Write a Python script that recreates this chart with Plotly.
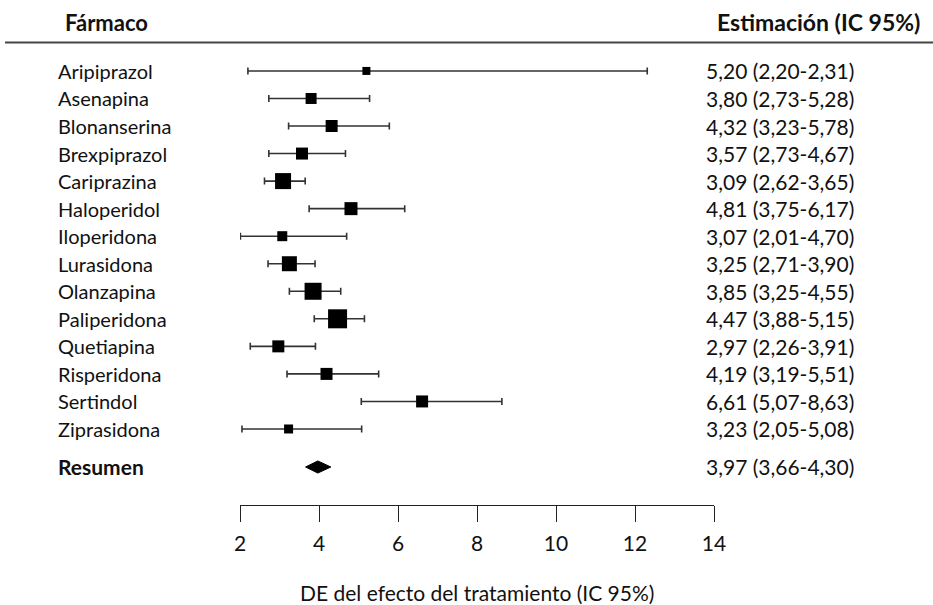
import plotly.graph_objects as go

drugs = ["Aripiprazol", "Asenapina", "Blonanserina", "Brexpiprazol", "Cariprazina",
         "Haloperidol", "Iloperidona", "Lurasidona", "Olanzapina", "Paliperidona",
         "Quetiapina", "Risperidona", "Sertindol", "Ziprasidona"]
estimate = [5.20, 3.80, 4.32, 3.57, 3.09, 4.81, 3.07, 3.25, 3.85, 4.47, 2.97, 4.19, 6.61, 3.23]
ci_low = [2.20, 2.73, 3.23, 2.73, 2.62, 3.75, 2.01, 2.71, 3.25, 3.88, 2.26, 3.19, 5.07, 2.05]
ci_high = [12.31, 5.28, 5.78, 4.67, 3.65, 6.17, 4.70, 3.90, 4.55, 5.15, 3.91, 5.51, 8.63, 5.08]
weights = [8, 11, 12, 12, 16, 13, 10, 15, 17, 19, 12, 12, 12, 9]
estimate_labels = ["5,20 (2,20-2,31)", "3,80 (2,73-5,28)", "4,32 (3,23-5,78)", "3,57 (2,73-4,67)",
                   "3,09 (2,62-3,65)", "4,81 (3,75-6,17)", "3,07 (2,01-4,70)", "3,25 (2,71-3,90)",
                   "3,85 (3,25-4,55)", "4,47 (3,88-5,15)", "2,97 (2,26-3,91)", "4,19 (3,19-5,51)",
                   "6,61 (5,07-8,63)", "3,23 (2,05-5,08)"]
summary_name = "Resumen"
summary_est = 3.97
summary_low = 3.66
summary_high = 4.30
summary_label = "3,97 (3,66-4,30)"
x_ticks = [2, 4, 6, 8, 10, 12, 14]

FONT = "Lato"
TXT = "#111111"
n = len(drugs)
ypos = [n - i for i in range(n)]
y_sum = -0.38

fig = go.Figure()
fig.add_trace(go.Scatter(
    x=estimate, y=ypos, mode="markers", opacity=1,
    marker=dict(symbol="square", size=weights, color="#000000", opacity=1,
                line=dict(width=0, color="#000000")),
    error_x=dict(type="data", symmetric=False,
                 array=[h - e for h, e in zip(ci_high, estimate)],
                 arrayminus=[e - l for e, l in zip(estimate, ci_low)],
                 color="#333333", thickness=1.6, width=3.5),
    showlegend=False, hoverinfo="skip"))

dh = 0.22
fig.add_trace(go.Scatter(
    x=[summary_low, summary_est, summary_high, summary_est, summary_low],
    y=[y_sum, y_sum + dh, y_sum, y_sum - dh, y_sum],
    mode="lines", fill="toself", fillcolor="#000000", line=dict(color="#000000", width=1),
    showlegend=False, hoverinfo="skip"))

ann = []
for name, lab, y in zip(drugs, estimate_labels, ypos):
    ann.append(dict(x=56 / 933, y=y, xref="paper", yref="y", text=name, showarrow=False,
                    xanchor="left", yanchor="middle", font=dict(family=FONT, size=20, color=TXT)))
    ann.append(dict(x=704 / 933, y=y, xref="paper", yref="y", text=lab, showarrow=False,
                    xanchor="left", yanchor="middle", font=dict(family=FONT, size=21, color=TXT)))
ann.append(dict(x=56 / 933, y=y_sum, xref="paper", yref="y", text="<b>" + summary_name + "</b>",
                showarrow=False, xanchor="left", yanchor="middle",
                font=dict(family=FONT, size=21, color=TXT)))
ann.append(dict(x=704 / 933, y=y_sum, xref="paper", yref="y", text=summary_label, showarrow=False,
                xanchor="left", yanchor="middle", font=dict(family=FONT, size=21, color=TXT)))
ann.append(dict(x=63 / 933, y=1 - 22 / 605, xref="paper", yref="paper", text="<b>Fármaco</b>",
                showarrow=False, xanchor="left", yanchor="middle",
                font=dict(family=FONT, size=22, color=TXT)))
ann.append(dict(x=922 / 933, y=1 - 22 / 605, xref="paper", yref="paper",
                text="<b>Estimación (IC 95%)</b>", showarrow=False, xanchor="right",
                yanchor="middle", font=dict(family=FONT, size=23, color=TXT)))
ann.append(dict(x=477 / 933, y=1 - 592 / 605, xref="paper", yref="paper",
                text="DE del efecto del tratamiento (IC 95%)", showarrow=False,
                xanchor="center", yanchor="middle", font=dict(family=FONT, size=21, color=TXT)))

fig.add_shape(type="line", xref="paper", yref="paper", x0=5 / 933, x1=1,
              y0=1 - 42.5 / 605, y1=1 - 42.5 / 605, line=dict(color="#444444", width=2))

fig.update_layout(
    width=933, height=605, margin=dict(l=0, r=0, t=0, b=0, autoexpand=False),
    paper_bgcolor="white", plot_bgcolor="white",
    xaxis=dict(domain=[240 / 933, 714 / 933], range=[2, 14], tickvals=x_ticks,
               ticktext=[str(t) for t in x_ticks], showgrid=False, zeroline=False,
               showline=True, linecolor="#222222", linewidth=1.2, ticks="outside",
               ticklen=16, tickwidth=1.2, tickcolor="#222222", ticklabelstandoff=4,
               automargin=False,
               tickfont=dict(family=FONT, size=21, color=TXT), fixedrange=True),
    yaxis=dict(domain=[1 - 505 / 605, 1 - 50 / 605], range=[-1.76, 14.76], visible=False,
               automargin=False, fixedrange=True),
    annotations=ann,
)

fig.write_html("out.html")
